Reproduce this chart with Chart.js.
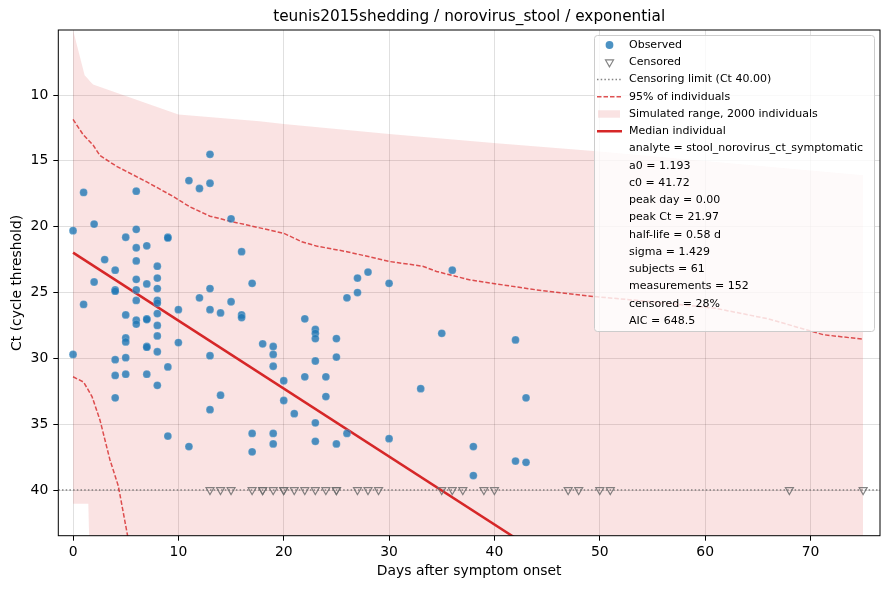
<!DOCTYPE html>
<html>
<head>
<meta charset="utf-8">
<title>teunis2015shedding / norovirus_stool / exponential</title>
<script src="https://cdn.jsdelivr.net/npm/chart.js@4.4.1/dist/chart.umd.min.js"></script>
<style>
  html, body { margin: 0; padding: 0; background: #fff; }
  #wrap { width: 890px; height: 590px; }
</style>
</head>
<body>
<div id="wrap"><canvas id="chart" width="890" height="590"></canvas></div>
<script>
const obsDays = [
  0, 0, 1, 1, 2, 2, 3,
  4, 4, 4, 4, 4, 4,
  5, 5, 5, 5, 5, 5,
  6, 6, 6, 6, 6, 6, 6, 6, 6,
  7, 7, 7, 7, 7, 7, 7,
  8, 8, 8, 8, 8, 8, 8, 8, 8, 8,
  9, 9, 9, 9, 10, 10, 11, 11, 12, 12,
  13, 13, 13, 13, 13, 13, 14, 14, 15, 15,
  16, 16, 16, 17, 17, 17, 18, 19, 19, 19, 19, 19,
  20, 20, 21, 22, 22, 23, 23, 23, 23, 23, 23,
  24, 24, 25, 25, 25, 26, 26, 27, 27, 28,
  30, 30, 33, 35, 36, 38, 38, 42, 42, 43, 43
];
const obsCt = [
  20.3, 29.7, 17.4, 25.9, 19.8, 24.2, 22.5,
  23.3, 24.8, 24.9, 30.1, 31.3, 33.0,
  20.8, 26.7, 28.45, 28.75, 29.95, 31.2,
  17.3, 20.2, 21.6, 22.6, 24.0, 24.8, 25.6, 27.1, 27.4,
  21.45, 24.35, 27.0, 27.05, 29.1, 29.15, 31.2,
  23.0, 23.9, 24.7, 25.6, 25.8, 26.6, 27.5, 28.3, 29.5, 32.05,
  20.8, 20.85, 30.65, 35.9, 26.3, 28.8, 16.5, 36.7, 17.1, 25.4,
  14.5, 16.7, 24.7, 26.3, 29.8, 33.9, 26.55, 32.8, 19.4, 25.7,
  21.9, 26.7, 26.9, 24.3, 35.7, 37.1, 28.9, 29.1, 29.7, 30.6, 35.7, 36.5,
  31.7, 33.2, 34.2, 27.0, 31.4, 27.8, 28.1, 28.5, 30.2, 34.9, 36.3,
  31.4, 32.9, 28.5, 29.9, 36.5, 25.4, 35.7, 23.9, 25.0, 23.45,
  24.3, 36.1, 32.3, 28.1, 23.3, 36.7, 38.9, 28.6, 37.8, 33.0, 37.9
];

// censored samples, drawn at the censoring limit
const censDays = [13, 14, 15, 17, 18, 18, 19, 20, 20, 21, 22, 23, 24, 25, 25,
  27, 28, 29, 35, 36, 37, 39, 40, 47, 48, 50, 51, 68, 75];
const censLimit = 40;

// median individual
const medianDays = [0, 45];
const medianCt = [21.97, 45.2];

// 95% of individuals
const upper95Days = [0, 0.95, 1.9, 2.56, 4.1, 7, 9.5, 11.1, 13, 15, 20, 21.7, 23.1, 26,
  28.2, 30.1, 33.2, 34.5, 37.7, 40.2, 44, 49.4, 55, 61, 66, 71.2, 75];
const upper95Ct = [11.85, 13.0, 13.8, 14.6, 15.4, 16.6, 17.7, 18.5, 19.2, 19.6, 20.5, 21.14,
  21.47, 21.9, 22.3, 22.65, 23.0, 23.4, 24.05, 24.35, 24.8, 25.3, 25.7, 26.2, 27.0, 28.2, 28.55];
const lower95Days = [0, 1, 1.8, 2.56, 3.5, 4.3, 5.3];
const lower95Ct = [31.4, 31.8, 32.9, 34.7, 37.7, 39.7, 44.0];

// simulated range, 2000 individuals
const simDays = [0, 1.1, 1.45, 1.6, 1.9, 10, 17.7, 20, 30, 40.2, 49.4, 75];
const simTopCt = [5.06, 8.5, 8.8, 8.95, 9.2, 11.47, 12.0, 12.2, 12.96, 13.67, 14.25, 16.1];
const simBottomCt = [41.05, 41.05, 41.05, 46, 46, 46, 46, 46, 46, 46, 46, 46];

const xTicks = [0, 10, 20, 30, 40, 50, 60, 70];
const yTicks = [10, 15, 20, 25, 30, 35, 40];
const xMin = -1.4, xMax = 76.6;
const yMin = 5.06, yMax = 43.47;

const titleText = 'teunis2015shedding / norovirus_stool / exponential';
const statLines = [
  'analyte = stool_norovirus_ct_symptomatic',
  'a0 = 1.193',
  'c0 = 41.72',
  'peak day = 0.00',
  'peak Ct = 21.97',
  'half-life = 0.58 d',
  'sigma = 1.429',
  'subjects = 61',
  'measurements = 152',
  'censored = 28%',
  'AIC = 648.5'
];

const FONT = '"DejaVu Sans", sans-serif';
const RED = '#d62728';
const BLUE = 'rgba(31,119,180,0.8)';
const GREY = 'rgba(110,110,110,0.85)';
const PINK = 'rgba(214,39,40,0.13)';

function pts(xs, ys) {
  return xs.map((x, i) => ({ x: x, y: ys[i] }));
}

// title, frame and the in-plot legend
const decor = {
  id: 'decor',
  afterDraw(chart) {
    const ctx = chart.ctx;
    const a = chart.chartArea;
    ctx.save();

    ctx.fillStyle = '#000';
    ctx.font = '15.3px ' + FONT;
    ctx.textAlign = 'center';
    ctx.textBaseline = 'middle';
    ctx.fillText(titleText, (a.left + a.right) / 2, 17);

    ctx.strokeStyle = '#000';
    ctx.lineWidth = 1;
    ctx.strokeRect(a.left, a.top, a.right - a.left, a.bottom - a.top);

    // legend box
    const bx = a.right - 286, by = a.top + 5, bw = 280, bh = 296;
    ctx.beginPath();
    ctx.roundRect(bx + 0.5, by + 0.5, bw, bh, 3);
    ctx.fillStyle = 'rgba(255,255,255,0.8)';
    ctx.fill();
    ctx.strokeStyle = '#cccccc';
    ctx.stroke();

    const hx0 = bx + 3, hx1 = bx + 28, hxc = bx + 15.5, tx = bx + 35;
    const row = i => by + 10 + i * 17.25;

    // Observed
    ctx.fillStyle = BLUE;
    ctx.beginPath();
    ctx.arc(hxc, row(0), 3.9, 0, Math.PI * 2);
    ctx.fill();
    // Censored
    ctx.strokeStyle = GREY;
    ctx.lineWidth = 1.2;
    ctx.beginPath();
    const r = 4.6, cy = row(1);
    ctx.moveTo(hxc, cy + r);
    ctx.lineTo(hxc - r * 0.866, cy - r * 0.5);
    ctx.lineTo(hxc + r * 0.866, cy - r * 0.5);
    ctx.closePath();
    ctx.stroke();
    // Censoring limit
    ctx.setLineDash([1.5, 2.2]);
    ctx.lineWidth = 1.3;
    ctx.beginPath();
    ctx.moveTo(hx0, row(2));
    ctx.lineTo(hx1, row(2));
    ctx.stroke();
    // 95%
    ctx.setLineDash([4.5, 2]);
    ctx.strokeStyle = 'rgba(214,39,40,0.8)';
    ctx.lineWidth = 1.5;
    ctx.beginPath();
    ctx.moveTo(hx0, row(3));
    ctx.lineTo(hx1, row(3));
    ctx.stroke();
    ctx.setLineDash([]);
    // Simulated range
    ctx.fillStyle = PINK;
    ctx.fillRect(hx0 + 1, row(4) - 3.7, 22, 7.4);
    // Median
    ctx.strokeStyle = RED;
    ctx.lineWidth = 2.5;
    ctx.beginPath();
    ctx.moveTo(hx0, row(5));
    ctx.lineTo(hx1, row(5));
    ctx.stroke();

    const labels = ['Observed', 'Censored', 'Censoring limit (Ct 40.00)', '95% of individuals',
      'Simulated range, 2000 individuals', 'Median individual'].concat(statLines);
    ctx.fillStyle = '#000';
    ctx.font = '11px ' + FONT;
    ctx.textAlign = 'left';
    ctx.textBaseline = 'middle';
    labels.forEach((t, i) => ctx.fillText(t, tx, row(i)));

    ctx.restore();
  }
};

const tickFont = { family: FONT, size: 13.9 };

new Chart(document.getElementById('chart'), {
  type: 'scatter',
  data: {
    datasets: [
      {
        label: 'Observed',
        data: pts(obsDays, obsCt),
        backgroundColor: BLUE,
        borderColor: 'rgba(255,255,255,0.35)',
        borderWidth: 0.5,
        pointRadius: 3.9,
        order: 0
      },
      {
        label: 'Censored',
        data: pts(censDays, censDays.map(() => censLimit)),
        pointStyle: 'triangle',
        rotation: 180,
        backgroundColor: 'rgba(0,0,0,0)',
        borderColor: GREY,
        borderWidth: 1.2,
        pointRadius: 4.6,
        order: 1
      },
      {
        type: 'line',
        label: 'Median individual',
        data: pts(medianDays, medianCt),
        borderColor: RED,
        borderWidth: 2.5,
        pointRadius: 0,
        fill: false,
        order: 2
      },
      {
        type: 'line',
        label: '95% upper',
        data: pts(upper95Days, upper95Ct),
        borderColor: 'rgba(214,39,40,0.8)',
        borderWidth: 1.5,
        borderDash: [4.5, 2],
        pointRadius: 0,
        fill: false,
        order: 3
      },
      {
        type: 'line',
        label: '95% lower',
        data: pts(lower95Days, lower95Ct),
        borderColor: 'rgba(214,39,40,0.8)',
        borderWidth: 1.5,
        borderDash: [4.5, 2],
        pointRadius: 0,
        fill: false,
        order: 3
      },
      {
        type: 'line',
        label: 'Censoring limit',
        data: pts([xMin, xMax], [censLimit, censLimit]),
        borderColor: GREY,
        borderWidth: 1.3,
        borderDash: [1.5, 2.2],
        pointRadius: 0,
        fill: false,
        order: 4
      },
      {
        type: 'line',
        label: 'Simulated range',
        data: pts(simDays, simTopCt),
        borderWidth: 0,
        borderColor: 'rgba(0,0,0,0)',
        backgroundColor: PINK,
        pointRadius: 0,
        fill: '+1',
        order: 5
      },
      {
        type: 'line',
        label: 'sim bottom',
        data: pts(simDays, simBottomCt),
        borderWidth: 0,
        borderColor: 'rgba(0,0,0,0)',
        pointRadius: 0,
        fill: false,
        order: 6
      }
    ]
  },
  options: {
    responsive: false,
    animation: false,
    devicePixelRatio: 1,
    layout: { padding: { top: 30, right: 10, left: 0, bottom: 0 } },
    plugins: {
      legend: { display: false },
      tooltip: { enabled: false },
      title: { display: false }
    },
    scales: {
      x: {
        type: 'linear',
        min: xMin,
        max: xMax,
        afterBuildTicks: s => { s.ticks = xTicks.map(v => ({ value: v })); },
        afterFit: s => { s.height = 54.3; },
        grid: { color: 'rgba(0,0,0,0.12)', tickColor: '#000', tickLength: 5 },
        border: { display: false },
        ticks: { color: '#000', font: tickFont, padding: 3, maxRotation: 0 },
        title: {
          display: true, text: 'Days after symptom onset', color: '#000',
          font: tickFont, padding: { top: 0, bottom: 10 }
        }
      },
      y: {
        type: 'linear',
        reverse: true,
        min: yMin,
        max: yMax,
        afterBuildTicks: s => { s.ticks = yTicks.map(v => ({ value: v })); },
        afterFit: s => { s.width = 58.3; },
        grid: { color: 'rgba(0,0,0,0.12)', tickColor: '#000', tickLength: 5 },
        border: { display: false },
        ticks: { color: '#000', font: tickFont, padding: 5 },
        title: {
          display: true, text: 'Ct (cycle threshold)', color: '#000',
          font: tickFont, padding: { top: 9, bottom: 9 }
        }
      }
    }
  },
  plugins: [decor]
});
</script>
</body>
</html>
